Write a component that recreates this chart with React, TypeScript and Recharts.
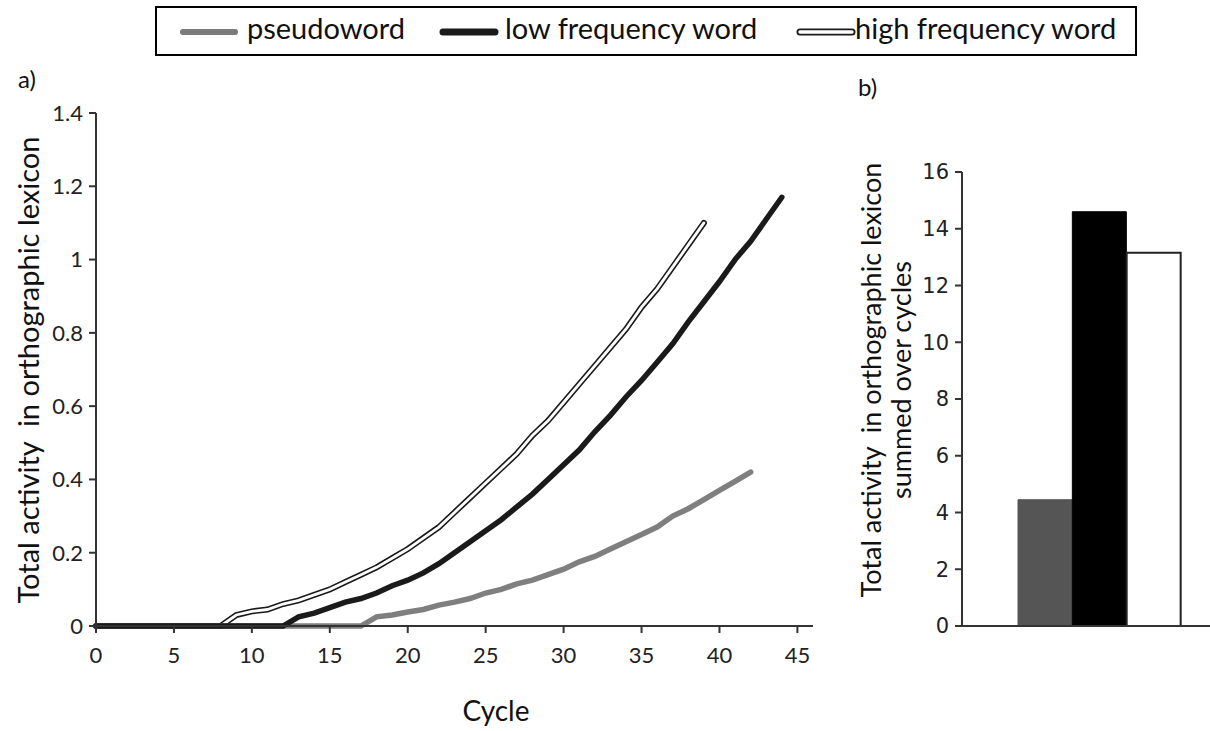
import { LineChart, Line, XAxis, YAxis, BarChart, Bar, Cell } from "recharts";

const cycles = [
  0, 1, 2, 3, 4, 5, 6, 7, 8, 9, 10, 11, 12, 13, 14, 15, 16, 17, 18, 19, 20, 21,
  22, 23, 24, 25, 26, 27, 28, 29, 30, 31, 32, 33, 34, 35, 36, 37, 38, 39, 40,
  41, 42, 43, 44,
];

const pseudoword = [
  0, 0, 0, 0, 0, 0, 0, 0, 0, 0, 0, 0, 0, 0, 0, 0, 0, 0, 0.025, 0.03, 0.038,
  0.045, 0.057, 0.065, 0.075, 0.09, 0.1, 0.115, 0.125, 0.14, 0.155, 0.175, 0.19,
  0.21, 0.23, 0.25, 0.27, 0.3, 0.32, 0.345, 0.37, 0.395, 0.42,
];

const lowFrequency = [
  0, 0, 0, 0, 0, 0, 0, 0, 0, 0, 0, 0, 0, 0.025, 0.035, 0.05, 0.065, 0.075, 0.09,
  0.11, 0.125, 0.145, 0.17, 0.2, 0.23, 0.26, 0.29, 0.325, 0.36, 0.4, 0.44, 0.48,
  0.53, 0.575, 0.625, 0.67, 0.72, 0.77, 0.83, 0.885, 0.94, 1.0, 1.05, 1.11, 1.17,
];

const highFrequency = [
  0, 0, 0, 0, 0, 0, 0, 0, 0, 0.03, 0.04, 0.045, 0.06, 0.07, 0.085, 0.1, 0.12,
  0.14, 0.16, 0.185, 0.21, 0.24, 0.27, 0.31, 0.35, 0.39, 0.43, 0.47, 0.52, 0.56,
  0.61, 0.66, 0.71, 0.76, 0.81, 0.87, 0.92, 0.98, 1.04, 1.1,
];

const xTicks = [0, 5, 10, 15, 20, 25, 30, 35, 40, 45];
const yTicks = [0, 0.2, 0.4, 0.6, 0.8, 1, 1.2, 1.4];

const barCategories = ["pseudoword", "low frequency word", "high frequency word"];
const barValues = [4.45, 14.6, 13.15];
const barTicks = [0, 2, 4, 6, 8, 10, 12, 14, 16];
const barColors = ["#555555", "#000000", "#ffffff"];

const SANS = "Lato, 'Open Sans', sans-serif";

export default function App() {
  const lineData = cycles.map((c, i) => ({
    cycle: c,
    pseudo: pseudoword[i],
    low: lowFrequency[i],
    high: highFrequency[i],
  }));

  const barData = barCategories.map((name, i) => ({ name, value: barValues[i] }));

  const axisStroke = "#333";

  return (
    <div
      style={{
        position: "absolute",
        left: 0,
        top: 0,
        width: 1210,
        height: 731,
        overflow: "hidden",
        background: "#fff",
        fontFamily: SANS,
        color: "#111",
      }}
    >
      {/* legend */}
      <div
        style={{
          position: "absolute",
          left: 155,
          top: 6,
          width: 978,
          height: 46,
          border: "2px solid #000",
          fontSize: 29,
        }}
      >
        <svg width={978} height={46} style={{ position: "absolute", left: 0, top: 0 }}>
          <line x1={26} y1={24} x2={78} y2={24} stroke="#7a7a7a" strokeWidth={6} strokeLinecap="round" />
          <line x1={286} y1={24} x2={338} y2={24} stroke="#1a1a1a" strokeWidth={7} strokeLinecap="round" />
          <line x1={643} y1={24} x2={695} y2={24} stroke="#1a1a1a" strokeWidth={7} strokeLinecap="round" />
          <line x1={643} y1={24} x2={695} y2={24} stroke="#fff" strokeWidth={3.5} strokeLinecap="round" />
        </svg>
        <span style={{ position: "absolute", left: 90, top: 2 }}>pseudoword</span>
        <span style={{ position: "absolute", left: 348, top: 2 }}>low frequency word</span>
        <span style={{ position: "absolute", left: 698, top: 2 }}>high frequency word</span>
      </div>

      <div style={{ position: "absolute", left: 18, top: 64, fontSize: 24 }}>a)</div>
      <div style={{ position: "absolute", left: 858, top: 72, fontSize: 24 }}>b)</div>

      {/* left chart */}
      <div style={{ position: "absolute", left: 0, top: 0 }}>
        <LineChart
          width={840}
          height={731}
          data={lineData}
          margin={{ top: 113, right: 27, bottom: 45, left: 36 }}
        >
          <XAxis
            dataKey="cycle"
            type="number"
            domain={[0, 46]}
            ticks={xTicks}
            interval={0}
            stroke={axisStroke}
            strokeWidth={2}
            tickSize={7}
            tickMargin={14}
            height={60}
            tick={{ fontSize: 22, fill: "#222", fontFamily: SANS }}
          />
          <YAxis
            type="number"
            domain={[0, 1.4]}
            ticks={yTicks}
            interval={0}
            width={60}
            stroke={axisStroke}
            strokeWidth={2}
            tickSize={7}
            tickMargin={6}
            tick={{ fontSize: 22, fill: "#222", fontFamily: SANS }}
            tickFormatter={(v: number) => (v === 0 || v === 1 ? String(v) : v.toFixed(1))}
          />
          <Line
            dataKey="high"
            type="linear"
            stroke="#1a1a1a"
            strokeWidth={6}
            dot={false}
            strokeLinecap="round"
            isAnimationActive={false}
          />
          <Line
            dataKey="high"
            type="linear"
            stroke="#ffffff"
            strokeWidth={2.8}
            dot={false}
            strokeLinecap="round"
            isAnimationActive={false}
          />
          <Line
            dataKey="pseudo"
            type="linear"
            stroke="#7f7f7f"
            strokeWidth={5.5}
            dot={false}
            strokeLinecap="round"
            isAnimationActive={false}
          />
          <Line
            dataKey="low"
            type="linear"
            stroke="#1a1a1a"
            strokeWidth={5.5}
            dot={false}
            strokeLinecap="round"
            isAnimationActive={false}
          />
        </LineChart>
      </div>

      <div
        style={{
          position: "absolute",
          left: 27,
          top: 370,
          transform: "translate(-50%, -50%) rotate(-90deg)",
          whiteSpace: "pre",
          fontSize: 29,
        }}
      >
        {"Total activity  in orthographic lexicon"}
      </div>
      <div style={{ position: "absolute", left: 496, top: 710, transform: "translate(-50%, -50%)", fontSize: 28 }}>
        Cycle
      </div>

      {/* right chart */}
      <div style={{ position: "absolute", left: 880, top: 0 }}>
        <BarChart
          width={330}
          height={731}
          data={barData}
          barCategoryGap={0}
          margin={{ top: 172, right: 0, bottom: 95, left: 22 }}
        >
          <XAxis
            dataKey="name"
            tick={false}
            tickLine={false}
            height={10}
            stroke={axisStroke}
            strokeWidth={2}
            padding={{ left: 56, right: 29 }}
          />
          <YAxis
            type="number"
            domain={[0, 16]}
            ticks={barTicks}
            interval={0}
            width={60}
            stroke={axisStroke}
            strokeWidth={2}
            tickSize={7}
            tickMargin={6}
            tick={{ fontSize: 21, fill: "#222", fontFamily: "'DejaVu Sans', sans-serif" }}
          />
          <Bar dataKey="value" isAnimationActive={false}>
            {barData.map((d, i) => (
              <Cell
                key={d.name}
                fill={barColors[i]}
                stroke={i === 2 ? "#222" : barColors[i]}
                strokeWidth={i === 2 ? 2 : 1}
              />
            ))}
          </Bar>
        </BarChart>
      </div>

      <div
        style={{
          position: "absolute",
          left: 886,
          top: 380,
          transform: "translate(-50%, -50%) rotate(-90deg)",
          whiteSpace: "nowrap",
          textAlign: "center",
          fontSize: 27,
          lineHeight: "30px",
        }}
      >
        Total activity&nbsp; in orthographic lexicon
        <br />
        summed over cycles
      </div>
    </div>
  );
}
